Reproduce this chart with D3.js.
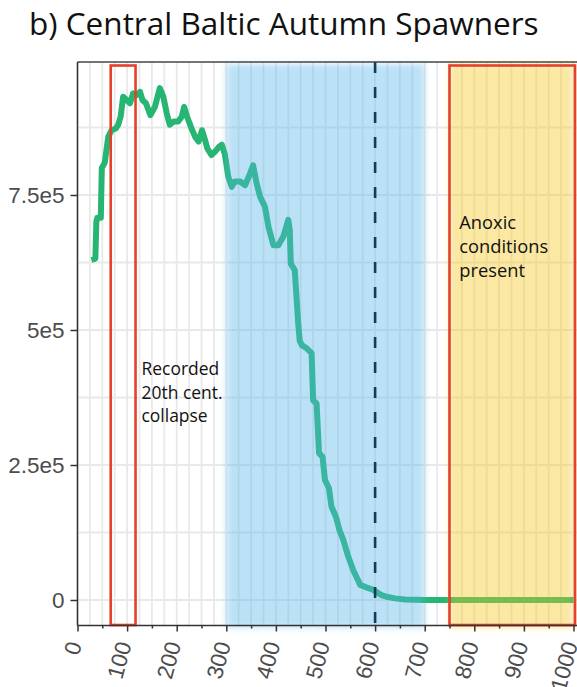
<!DOCTYPE html>
<html><head><meta charset="utf-8">
<script src="https://cdn.jsdelivr.net/npm/d3@7"></script>
<style>body{margin:0;background:#fff}svg{display:block}</style>
</head><body>
<svg id="c" width="577" height="687"></svg>
<script>
// ---- data ----
const years = [28,36,38,40,47,49,55,62,69,77,82,87,92,99,106,112,119,126,131,138,147,156,166,173,180,186,194,203,210,215,221,230,237,244,251,257,262,270,277,286,291,297,304,311,317,328,338,348,354,361,368,378,385,395,405,415,425,428,430,438,445,448,452,462,472,475,482,487,494,499,507,512,521,528,536,546,556,570,583,593,603,613,623,640,660,680,700,1000];
const spawners = [630000,632000,700000,708000,708000,800000,810000,858000,870000,873000,880000,895000,932000,926000,920000,938000,935000,941000,926000,920000,898000,913000,948000,932000,901000,880000,886000,886000,895000,913000,895000,873000,858000,849000,870000,852000,836000,824000,830000,840000,843000,826000,784000,765000,775000,775000,768000,790000,805000,772000,747000,728000,691000,657000,657000,673000,704000,685000,623000,611000,512000,480000,472000,466000,457000,370000,364000,272000,265000,222000,207000,173000,154000,130000,111000,80000,55000,28000,23000,20000,15000,9000,6000,3000,1000,300,0,0];
const xTicks = [0,100,200,300,400,500,600,700,800,900,1000];
const xMinorTicks = [50,150,250,350,450,550,650,750,850,950];
const yTicks = [0,250000,500000,750000];
const yTickLabels = ["0","2.5e5","5e5","7.5e5"];
const collapseRange = [67,117];
const blueRange = [300,700];
const anoxicRange = [750,1000];
const markerYear = 600;
const titleText = "b) Central Baltic Autumn Spawners";
const collapseLabel = ["Recorded","20th cent.","collapse"];
const anoxicLabel = ["Anoxic","conditions","present"];

// ---- layout ----
const W = 577, H = 687;
const pTop = 62, pBottom = 625.5, pLeft = 77.5, pRight = 577;
const svg = d3.select("#c");
const x = d3.scaleLinear().domain([0,1000]).range([77.5,573.5]);
const y = d3.scaleLinear().domain([0,750000]).range([600,195]);

const defs = svg.append("defs");
defs.append("filter").attr("id","blur").attr("x","-10%").attr("y","-5%").attr("width","120%").attr("height","110%")
  .append("feGaussianBlur").attr("stdDeviation",3.2);

// grid
const g = svg.append("g");
g.selectAll("line.v").data(d3.range(0,1001,25)).join("line")
  .attr("x1",d=>x(d)).attr("x2",d=>x(d)).attr("y1",pTop).attr("y2",pBottom)
  .attr("stroke","#e9e9e9").attr("stroke-width",1.8);
g.selectAll("line.h").data(d3.range(0,1000000,125000).filter(d=>y(d)>pTop+2)).join("line")
  .attr("x1",pLeft).attr("x2",pRight).attr("y1",d=>y(d)).attr("y2",d=>y(d))
  .attr("stroke","#e9e9e9").attr("stroke-width",1.8);

// line
const pts = years.map((d,i)=>[d,spawners[i]]);
svg.append("path").datum(pts)
  .attr("d",d3.line().x(d=>x(d[0])).y(d=>y(d[1])))
  .attr("fill","none").attr("stroke","#27b573").attr("stroke-width",6)
  .attr("stroke-linejoin","round").attr("stroke-linecap","butt");

// bands
svg.append("rect").attr("x",x(blueRange[0])).attr("width",x(blueRange[1])-x(blueRange[0]))
  .attr("y",pTop+2).attr("height",pBottom-pTop)
  .attr("fill","#56B4E9").attr("fill-opacity",0.4).attr("filter","url(#blur)");
svg.append("rect").attr("x",x(anoxicRange[0])).attr("width",x(anoxicRange[1])-x(anoxicRange[0]))
  .attr("y",pTop+2).attr("height",pBottom-pTop)
  .attr("fill","#F5C518").attr("fill-opacity",0.4).attr("filter","url(#blur)");

// red boxes
[collapseRange, anoxicRange].forEach(r=>{
  svg.append("rect").attr("x",x(r[0])).attr("width",x(r[1])-x(r[0])+ (r[1]===1000?1.5:0))
    .attr("y",pTop+3.5).attr("height",pBottom-pTop-4)
    .attr("fill","none").attr("stroke","#e4412b").attr("stroke-width",2.6);
});

// dashed marker
svg.append("line").attr("x1",x(markerYear)).attr("x2",x(markerYear))
  .attr("y1",pTop).attr("y2",pBottom+2)
  .attr("stroke","#163a57").attr("stroke-width",2.6).attr("stroke-dasharray","11,14");

// panel border lines
svg.append("line").attr("x1",pLeft).attr("x2",pRight).attr("y1",pTop).attr("y2",pTop)
  .attr("stroke","#444").attr("stroke-width",1.5);
svg.append("line").attr("x1",pLeft).attr("x2",pLeft).attr("y1",pTop).attr("y2",pBottom)
  .attr("stroke","#333").attr("stroke-width",1.5);
svg.append("line").attr("x1",pLeft).attr("x2",pRight).attr("y1",pBottom).attr("y2",pBottom)
  .attr("stroke","#333").attr("stroke-width",1.5);

// y axis
const ya = svg.append("g").attr("transform",`translate(${pLeft},0)`)
  .call(d3.axisLeft(y).tickValues(yTicks).tickFormat((d,i)=>yTickLabels[i]).tickSize(7).tickPadding(6));
ya.select(".domain").remove();
ya.selectAll("line").attr("stroke","#333").attr("stroke-width",1.5);
ya.selectAll("text").attr("font-family","'Liberation Sans', Arial, sans-serif").attr("font-size",22.5).attr("fill","#4d4d4d");

// x axis
const xa = svg.append("g").attr("transform",`translate(0,${pBottom})`)
  .call(d3.axisBottom(x).tickValues(xTicks).tickFormat(d3.format("d")).tickSize(6));
xa.select(".domain").remove();
xa.selectAll("line").attr("stroke","#333").attr("stroke-width",1.5);
xa.selectAll("text").attr("font-family","'Liberation Sans', Arial, sans-serif").attr("font-size",22.5).attr("fill","#4d4d4d")
  .attr("x",0).attr("y",0).attr("dy","0.35em").attr("text-anchor","end")
  .attr("transform","translate(-3.5,16.5) rotate(-75)");
const xm = svg.append("g").attr("transform",`translate(0,${pBottom})`)
  .call(d3.axisBottom(x).tickValues(xMinorTicks).tickFormat("").tickSize(3));
xm.select(".domain").remove();
xm.selectAll("line").attr("stroke","#333").attr("stroke-width",1.5);

// text helpers
function fit(sel, target){ const w = sel.node().getComputedTextLength(); const fs = parseFloat(sel.attr("font-size")); sel.attr("font-size", fs*target/w); }
const sansF = "'Open Sans', 'Noto Sans', sans-serif";

const t = svg.append("text").attr("x",29).attr("y",35).attr("font-family",sansF).attr("font-size",28).attr("fill","#111").text(titleText);
fit(t, 510);

const c1 = svg.append("text").attr("font-family",sansF).attr("font-size",16).attr("fill","#111");
collapseLabel.forEach((s,i)=>c1.append("tspan").attr("x",141.5).attr("y",375+i*23.5).text(s));
const cw = c1.select("tspan").node().getComputedTextLength();
c1.attr("font-size",16*77.7/cw);

const c2 = svg.append("text").attr("font-family",sansF).attr("font-size",16).attr("fill","#111");
anoxicLabel.forEach((s,i)=>c2.append("tspan").attr("x",459.3).attr("y",229.3+i*23.7).text(s));
const aw = c2.selectAll("tspan").nodes()[1].getComputedTextLength();
c2.attr("font-size",16*89/aw);
</script>
</body></html>
